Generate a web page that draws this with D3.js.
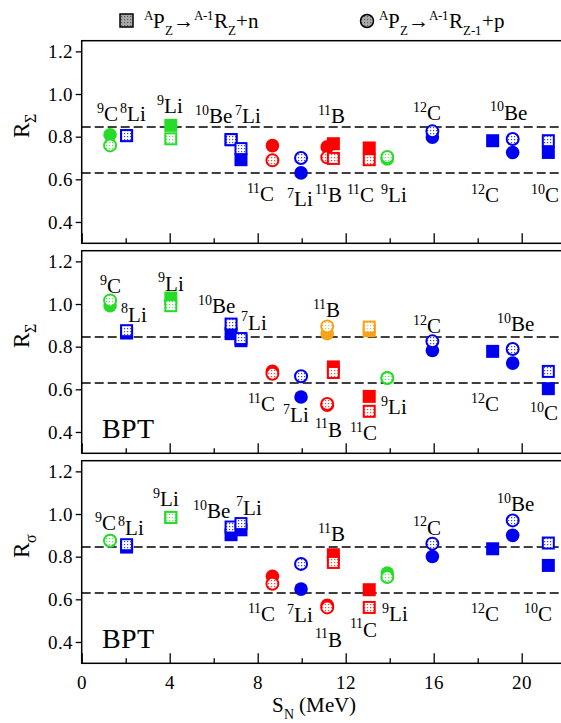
<!DOCTYPE html>
<html>
<head>
<meta charset="utf-8">
<script src="https://cdnjs.cloudflare.com/ajax/libs/d3/7.8.5/d3.min.js"></script>
<style>
@font-face {
  font-family: "PlotSerif";
  src: local("Liberation Serif"), local("LiberationSerif-Regular"), local("LiberationSerif"),
       local("DejaVu Serif"), local("DejaVuSerif"), local("Times New Roman");
}
body { margin: 0; background: #fff; }
</style>
</head>
<body>
<script>
//Canvas and panel layout
var width = 561, height = 723;
var plotLeft = 81.7, plotRight = 565.7;
var panelTop = [40.7, 250.7, 460.7];
var panelH = 202.6;
var serif = "PlotSerif, 'Liberation Serif', 'DejaVu Serif', 'Times New Roman', serif";

//S_N of every marker, its shape and colour
var sn = [1.29, 2.04, 4.05, 6.79, 7.24, 8.67, 9.97, 11.16, 11.16, 11.44, 13.07, 13.07, 13.89, 15.94, 18.68, 19.59, 21.21];
var shapes = ["circle", "square", "square", "square", "square", "circle", "circle", "circle", "circle",
              "square", "square", "square", "circle", "circle", "square", "circle", "square"];
var groups = ["green", "blue", "green", "blue", "blue", "red", "blue", "red", "orange",
              "red", "red", "orange", "green", "blue", "blue", "blue", "blue"];

//values: filled (full) and dotted markers, one pair of arrays per panel
var topFull = [0.809, 0.805, 0.853, 0.786, 0.692, 0.758, 0.630, 0.752, null, 0.767, 0.747, null, 0.695, 0.798, 0.781, 0.726, 0.726];
var topDot  = [0.759, 0.805, 0.790, 0.786, 0.744, 0.689, 0.700, 0.703, null, 0.698, 0.692, null, 0.705, 0.825, null, 0.789, 0.781];
var midFull = [0.992, 0.864, 1.028, 0.861, 0.828, 0.684, 0.564, 0.525, 0.861, 0.705, 0.567, 0.875, 0.653, 0.782, 0.778, 0.723, 0.603];
var midDot  = [1.017, 0.875, 0.992, 0.906, 0.838, 0.673, 0.661, 0.531, 0.895, 0.679, 0.497, 0.892, 0.653, 0.825, null, 0.789, 0.684];
var botFull = [0.875, 0.845, 0.984, 0.903, 0.926, 0.708, 0.648, 0.572, null, 0.809, 0.645, null, 0.723, 0.801, 0.837, 0.900, 0.759];
var botDot  = [0.875, 0.856, 0.984, 0.939, 0.955, 0.673, 0.766, 0.562, null, 0.773, 0.562, null, 0.705, 0.861, null, 0.970, 0.864];

//reference lines
var refLines = [0.845, 0.63];

//nucleus labels: mass number, element, anchor (S_N, R)
var topLabels = [["9","C",0.68,0.872],["8","Li",1.74,0.872],["9","Li",3.44,0.911],["10","Be",5.15,0.864],["7","Li",6.99,0.864],
  ["11","C",7.5,0.497],["7","Li",9.32,0.473],["11","B",10.75,0.864],["11","B",10.6,0.492],["11","C",12.05,0.492],
  ["9","Li",13.6,0.492],["12","C",15.07,0.876],["10","Be",18.56,0.88],["12","C",17.7,0.492],["10","C",20.42,0.492]];
var midLabels = [["9","C",0.83,1.052],["8","Li",1.77,0.918],["9","Li",3.48,1.062],["10","Be",5.3,0.958],["7","Li",7.23,0.88],
  ["11","C",7.57,0.497],["7","Li",9.16,0.445],["11","B",10.53,0.939],["12","C",15.07,0.864],["10","Be",18.86,0.872],
  ["11","B",10.6,0.377],["11","C",12.2,0.361],["9","Li",13.6,0.484],["12","C",17.7,0.497],["10","C",20.38,0.454]];
var botLabels = [["9","C",0.6,0.923],["8","Li",1.66,0.903],["9","Li",3.23,1.036],["10","Be",5.07,0.981],["7","Li",7.0,0.997],
  ["11","C",7.57,0.497],["7","Li",9.32,0.492],["11","B",10.75,0.872],["12","C",15.07,0.903],["10","Be",18.86,1.012],
  ["11","B",10.6,0.378],["11","C",12.2,0.425],["9","Li",13.64,0.497],["12","C",17.7,0.497],["10","C",20.1,0.497]];

var yTicks = [0.4, 0.6, 0.8, 1.0, 1.2];
var xMajor = [0, 4, 8, 12, 16, 20];
var xMinor = [2, 6, 10, 14, 18];

var palette = {green: "#27dc27", blue: "#0000f0", red: "#ff0000", orange: "#f8a21a"};

var panels = [
  {full: topFull, dot: topDot, labels: topLabels, ylab: "\u03a3", bpt: false},
  {full: midFull, dot: midDot, labels: midLabels, ylab: "\u03a3", bpt: true},
  {full: botFull, dot: botDot, labels: botLabels, ylab: "\u03c3", bpt: true}
];

var svg = d3.select("body").append("svg")
  .attr("width", width)
  .attr("height", height)
  .attr("font-family", serif);

//dotted fill patterns
var defs = svg.append("defs");
function makePattern(id, col, bg) {
  var p = defs.append("pattern").attr("id", id)
    .attr("patternUnits", "userSpaceOnUse").attr("width", 3).attr("height", 3);
  p.append("rect").attr("width", 3).attr("height", 3).attr("fill", bg);
  p.append("rect").attr("x", 1).attr("y", 1).attr("width", 1.2).attr("height", 1.2).attr("fill", col).attr("opacity", 0.75);
}
Object.keys(palette).forEach(function(k) { makePattern("dot-" + k, palette[k], "#fff"); });
makePattern("dot-grey", "#444", "#aaa");

//text with superscripts / subscripts
function rich(sel, parts, big, small) {
  var shift = 0;
  sel.attr("font-family", serif).attr("fill", "#000");
  parts.forEach(function(p) {
    var target = p[1] === "sup" ? -0.4 * big : (p[1] === "sub" ? 0.32 * big : 0);
    sel.append("tspan")
      .attr("font-size", p[1] === "n" ? big : small)
      .attr("dy", target - shift)
      .text(p[0]);
    shift = target;
  });
}

var x = d3.scaleLinear().domain([0, 22]).range([plotLeft, plotRight]);

function drawMarker(g, shape, cx, cy, col, dotted) {
  if (shape === "circle") {
    g.append("circle")
      .attr("cx", cx).attr("cy", cy)
      .attr("r", dotted ? 6 : 6.8)
      .attr("fill", dotted ? "url(#dot-" + col + ")" : palette[col])
      .attr("stroke", dotted ? palette[col] : "none")
      .attr("stroke-width", 2);
  } else {
    var s = dotted ? 11 : 13;
    g.append("rect")
      .attr("x", cx - s / 2).attr("y", cy - s / 2)
      .attr("width", s).attr("height", s)
      .attr("fill", dotted ? "url(#dot-" + col + ")" : palette[col])
      .attr("stroke", dotted ? palette[col] : "none")
      .attr("stroke-width", 2);
  }
}

panels.forEach(function(pan, pi) {
  var top = panelTop[pi];
  var y = d3.scaleLinear().domain([0.3, 1.25]).range([top + panelH, top]);
  var g = svg.append("g");

  //left axis
  var yAxis = d3.axisLeft(y).tickValues(yTicks).tickFormat(d3.format(".1f")).tickSize(6).tickPadding(3);
  var ya = g.append("g").attr("transform", "translate(" + plotLeft + ",0)").call(yAxis)
    .attr("font-family", serif).attr("font-size", 19);
  ya.select(".domain").remove();
  ya.selectAll("line").attr("stroke-width", 1.3);

  //bottom ticks pointing inwards
  var xa = g.append("g").attr("transform", "translate(0," + (top + panelH) + ")")
    .call(d3.axisBottom(x).tickValues(xMajor).tickSize(-10).tickPadding(12).tickFormat(pi === 2 ? d3.format("d") : ""))
    .attr("font-family", serif).attr("font-size", 19);
  xa.select(".domain").remove();
  xa.selectAll("line").attr("stroke-width", 1.3);
  var xm = g.append("g").attr("transform", "translate(0," + (top + panelH) + ")")
    .call(d3.axisBottom(x).tickValues(xMinor).tickSize(-5).tickFormat(""));
  xm.select(".domain").remove();
  xm.selectAll("line").attr("stroke-width", 1.3);

  //frame
  g.append("rect")
    .attr("x", plotLeft).attr("y", top)
    .attr("width", plotRight + 10 - plotLeft).attr("height", panelH)
    .attr("fill", "none").attr("stroke", "#000").attr("stroke-width", 1.5);

  //dashed reference lines
  g.selectAll(".ref").data(refLines).enter().append("line")
    .attr("x1", plotLeft).attr("x2", plotRight + 10)
    .attr("y1", function(d) { return y(d); })
    .attr("y2", function(d) { return y(d); })
    .attr("stroke", "#000").attr("stroke-width", 1.5)
    .attr("stroke-dasharray", "9,4");

  //markers: filled first, dotted on top
  var mk = g.append("g");
  sn.forEach(function(s, i) {
    if (pan.full[i] != null) drawMarker(mk, shapes[i], x(s), y(pan.full[i]), groups[i], false);
    if (pan.dot[i] != null) drawMarker(mk, shapes[i], x(s), y(pan.dot[i]), groups[i], true);
  });

  //nucleus labels
  pan.labels.forEach(function(l) {
    var t = g.append("text").attr("x", x(l[2])).attr("y", y(l[3]));
    rich(t, [[l[0], "sup"], [l[1], "n"]], 21, 14);
  });

  if (pan.bpt) {
    g.append("text").attr("x", x(0.91)).attr("y", y(0.372))
      .attr("font-family", serif).attr("font-size", 28).text("BPT");
  }

  //y label
  var yl = g.append("text")
    .attr("transform", "translate(29," + (top + 97) + ") rotate(-90)")
    .attr("text-anchor", "start");
  rich(yl, [["R", "n"], [pan.ylab, "sub"]], 23, 16);
});

//x title
var xt = svg.append("text").attr("x", 272).attr("y", 712);
rich(xt, [["S", "n"], ["N", "sub"], [" (MeV)", "n"]], 21, 14);

//legend
svg.append("rect").attr("x", 120).attr("y", 14).attr("width", 13).attr("height", 13)
  .attr("fill", "url(#dot-grey)").attr("stroke", "#000").attr("stroke-width", 1.5);
var l1 = svg.append("text").attr("x", 144).attr("y", 28);
rich(l1, [["A", "sup"], ["P", "n"], ["Z", "sub"], ["\u2192", "n"], ["A-1", "sup"], ["R", "n"], ["Z", "sub"], ["+n", "n"]], 21, 13);
svg.append("circle").attr("cx", 367).attr("cy", 21).attr("r", 6.5)
  .attr("fill", "url(#dot-grey)").attr("stroke", "#000").attr("stroke-width", 1.5);
var l2 = svg.append("text").attr("x", 379).attr("y", 28);
rich(l2, [["A", "sup"], ["P", "n"], ["Z", "sub"], ["\u2192", "n"], ["A-1", "sup"], ["R", "n"], ["Z-1", "sub"], ["+p", "n"]], 21, 13);
</script>
</body>
</html>
